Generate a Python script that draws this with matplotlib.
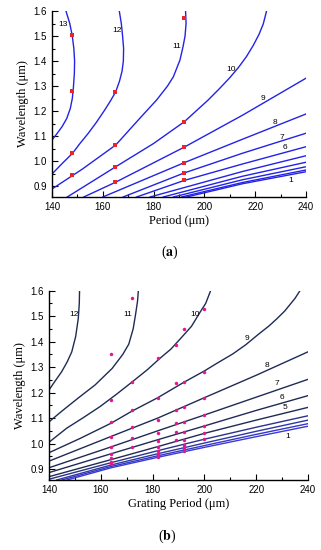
import matplotlib
matplotlib.use('Agg')
import matplotlib.pyplot as plt
from matplotlib.ticker import MultipleLocator

plt.rcParams['font.family'] = ['Liberation Sans', 'DejaVu Sans']
plt.rcParams['mathtext.fontset'] = 'stix'

# ---- panel (a): resonance curves, mode orders 1..13 ----
a_orders = [1, 2, 3, 4, 5, 6, 7, 8, 9, 10, 11, 12, 13]
a_period = [
    [193, 215, 240],
    [191, 215, 240],
    [187.8, 215, 240],
    [183.8, 215, 240],
    [178.6, 215, 240],
    [173.3, 192, 215, 240],
    [168, 192, 215, 240],
    [160, 192, 215, 240],
    [152.5, 165, 192, 215, 240],
    [146, 165.1, 180, 192.1, 201.5, 206, 210, 213.5, 216.6, 219.3, 221.5, 223.2, 224.5],
    [140, 152, 165.1, 174.6, 181.2, 185.5, 187.8, 190.4, 191.6, 192.4, 192.8, 192.6],
    [140, 144, 148.1, 151, 154.3, 157.5, 160.5, 163, 165.1, 166.6, 167.6, 168.1, 168.2, 167.8, 167.3, 166.5],
    [140, 142, 144, 145.8, 147.2, 148.0, 148.4, 148.8, 148.9, 148.6, 148.0, 147.0, 145.5],
]
a_wavelength = [
    [0.856, 0.909, 0.957],
    [0.856, 0.914, 0.964],
    [0.856, 0.925, 0.977],
    [0.856, 0.939, 0.995],
    [0.856, 0.958, 1.021],
    [0.856, 0.922, 0.988, 1.057],
    [0.856, 0.952, 1.031, 1.111],
    [0.856, 0.993, 1.087, 1.188],
    [0.856, 0.915, 1.055, 1.183, 1.331],
    [0.856, 0.977, 1.07, 1.157, 1.244, 1.29, 1.333, 1.375, 1.418, 1.463, 1.506, 1.548, 1.6],
    [0.888, 0.968, 1.064, 1.171, 1.244, 1.3, 1.337, 1.404, 1.457, 1.5, 1.55, 1.6],
    [0.948, 0.99, 1.031, 1.07, 1.111, 1.155, 1.2, 1.24, 1.277, 1.32, 1.36, 1.4, 1.45, 1.5, 1.55, 1.6],
    [1.084, 1.11, 1.138, 1.17, 1.21, 1.25, 1.29, 1.35, 1.4, 1.45, 1.5, 1.55, 1.6],
]
# measured points (a)
a_meas_period = [148, 148, 148, 148, 165, 165, 165, 165, 192, 192, 192, 192, 192, 192]
a_meas_wl = [1.503, 1.281, 1.031, 0.943, 1.277, 1.064, 0.977, 0.915,
             1.571, 1.157, 1.055, 0.993, 0.953, 0.924]

# ---- panel (b): resonance curves, mode orders 1..12 ----
b_orders = [1, 2, 3, 4, 5, 6, 7, 8, 9, 10, 11, 12]
b_period = [
    [147, 164, 182, 200, 220, 240],
    [145, 164, 182, 200, 220, 240],
    [143, 164, 182, 200, 220, 240],
    [140, 164, 182, 200, 220, 240],
    [140, 164, 182, 200, 220, 240],
    [140, 164, 182, 200, 220, 240],
    [140, 164, 182, 200, 220, 240],
    [140, 164, 182, 200, 220, 240],
    [140, 152, 164, 172, 182, 192, 200, 205, 211, 216, 221, 225, 228, 231, 233, 235, 236.9],
    [140, 146.8, 153, 159.7, 166, 172.5, 178, 182.9, 187, 190.6, 195, 198.3, 200.5, 202.4],
    [140, 144.7, 151.2, 157.8, 164.4, 168.5, 170.8, 172.5, 173.4, 174.2, 174.5],
    [140, 142, 144.9, 147, 148.8, 150.3, 151.3, 151.7, 151.8],
]
b_wavelength = [
    [0.857, 0.905, 0.946, 0.985, 1.027, 1.068],
    [0.857, 0.91, 0.952, 0.992, 1.036, 1.078],
    [0.857, 0.916, 0.96, 1.002, 1.048, 1.092],
    [0.86, 0.925, 0.972, 1.017, 1.064, 1.109],
    [0.87, 0.937, 0.988, 1.04, 1.092, 1.142],
    [0.886, 0.96, 1.015, 1.069, 1.13, 1.188],
    [0.905, 0.987, 1.05, 1.112, 1.182, 1.252],
    [0.931, 1.028, 1.1, 1.18, 1.268, 1.36],
    [0.964, 1.02, 1.08, 1.127, 1.18, 1.24, 1.285, 1.316, 1.352, 1.388, 1.43, 1.462, 1.49, 1.52, 1.545, 1.57, 1.6],
    [1.005, 1.06, 1.1, 1.145, 1.193, 1.245, 1.29, 1.335, 1.37, 1.41, 1.46, 1.515, 1.55, 1.6],
    [1.085, 1.125, 1.178, 1.23, 1.295, 1.35, 1.39, 1.45, 1.505, 1.56, 1.6],
    [1.21, 1.24, 1.282, 1.32, 1.36, 1.42, 1.49, 1.55, 1.6],
]
b_colors = ['#3a3ad8', '#3538c4', '#3036a8', '#2b3488'] + ['#1f2b55'] * 8
# measured points (b)
b_meas_period = ([164] * 9 + [172] * 6 + [182] * 10 + [189] * 6 + [192] * 10 + [200] * 7)
b_meas_wl = ([1.351, 1.169, 1.083, 1.027, 0.985, 0.959, 0.943, 0.929, 0.919]
             + [1.573, 1.24, 1.13, 1.066, 1.021, 0.988]
             + [1.335, 1.18, 1.093, 1.043, 1.01, 0.985, 0.971, 0.96, 0.952, 0.946]
             + [1.387, 1.239, 1.132, 1.082, 1.046, 1.014]
             + [1.448, 1.24, 1.145, 1.086, 1.046, 1.014, 0.994, 0.985, 0.977, 0.972]
             + [1.528, 1.282, 1.177, 1.112, 1.069, 1.04, 1.017])

fig = plt.figure(figsize=(3.21, 5.5), dpi=100)
ax1 = fig.add_axes([0.162, 0.6418, 0.791, 0.3382])
ax2 = fig.add_axes([0.1526, 0.1273, 0.8069, 0.3442])


def style_axes(ax, ylo, xlabel):
    ax.set_xlim(140, 240)
    ax.set_ylim(ylo, 1.6)
    ax.spines['top'].set_visible(False)
    ax.spines['right'].set_visible(False)
    ax.spines['left'].set_linewidth(1.0)
    ax.spines['bottom'].set_linewidth(1.0)
    ax.xaxis.set_major_locator(MultipleLocator(20))
    ax.xaxis.set_minor_locator(MultipleLocator(10))
    ax.yaxis.set_major_locator(MultipleLocator(0.1))
    ax.yaxis.set_minor_locator(MultipleLocator(0.05))
    ax.tick_params(which='both', direction='in', labelsize=7, top=False, right=False)
    ax.tick_params(which='major', length=4, width=0.8)
    ax.tick_params(which='minor', length=2, width=0.8)
    ax.set_yticks([0.9, 1.0, 1.1, 1.2, 1.3, 1.4, 1.5, 1.6])
    ax.set_xlabel(xlabel, family='Liberation Serif', fontsize=9, labelpad=2)
    ax.set_ylabel('Wavelength (μm)', family='Liberation Serif', fontsize=9, labelpad=3)


# panel (a)
for xs, ys in zip(a_period, a_wavelength):
    ax1.plot(xs, ys, color='#2323e6', lw=1.0)
ax1.plot(a_meas_period, a_meas_wl, 's', color='#e8262a', ms=2.4, mew=0)
style_axes(ax1, 0.856, 'Period (μm)')
a_labels = {13: (144.4, 1.548), 12: (165.5, 1.521), 11: (189.3, 1.457),
            10: (210.5, 1.365), 9: (223.2, 1.249), 8: (227.9, 1.153),
            7: (230.4, 1.095), 6: (231.6, 1.055), 1: (234, 0.924)}
for k, (tx, ty) in a_labels.items():
    ax1.text(tx, ty, str(k), fontsize=6, ha='center', va='center')

# panel (b)
for xs, ys, c in zip(b_period, b_wavelength, b_colors):
    ax2.plot(xs, ys, color=c, lw=1.0)
ax2.plot(b_meas_period, b_meas_wl, 'o', color='#e4168c', ms=2.5, mew=0)
style_axes(ax2, 0.857, 'Grating Period (μm)')
b_labels = {12: (149.7, 1.507), 11: (170.4, 1.507), 10: (196.4, 1.508),
            9: (216.3, 1.413), 8: (224.1, 1.306), 7: (228.1, 1.236),
            6: (230.1, 1.18), 5: (231.1, 1.141), 1: (232, 1.029)}
for k, (tx, ty) in b_labels.items():
    ax2.text(tx, ty, str(k), fontsize=6, ha='center', va='center')

fig.text(0.53, 1 - 252 / 550, r'($\mathbf{a}$)', family='Liberation Serif',
         fontsize=10, ha='center', va='center')
fig.text(0.52, 1 - 536 / 550, r'($\mathbf{b}$)', family='Liberation Serif',
         fontsize=10, ha='center', va='center')

fig.savefig('out.png', dpi=100)
